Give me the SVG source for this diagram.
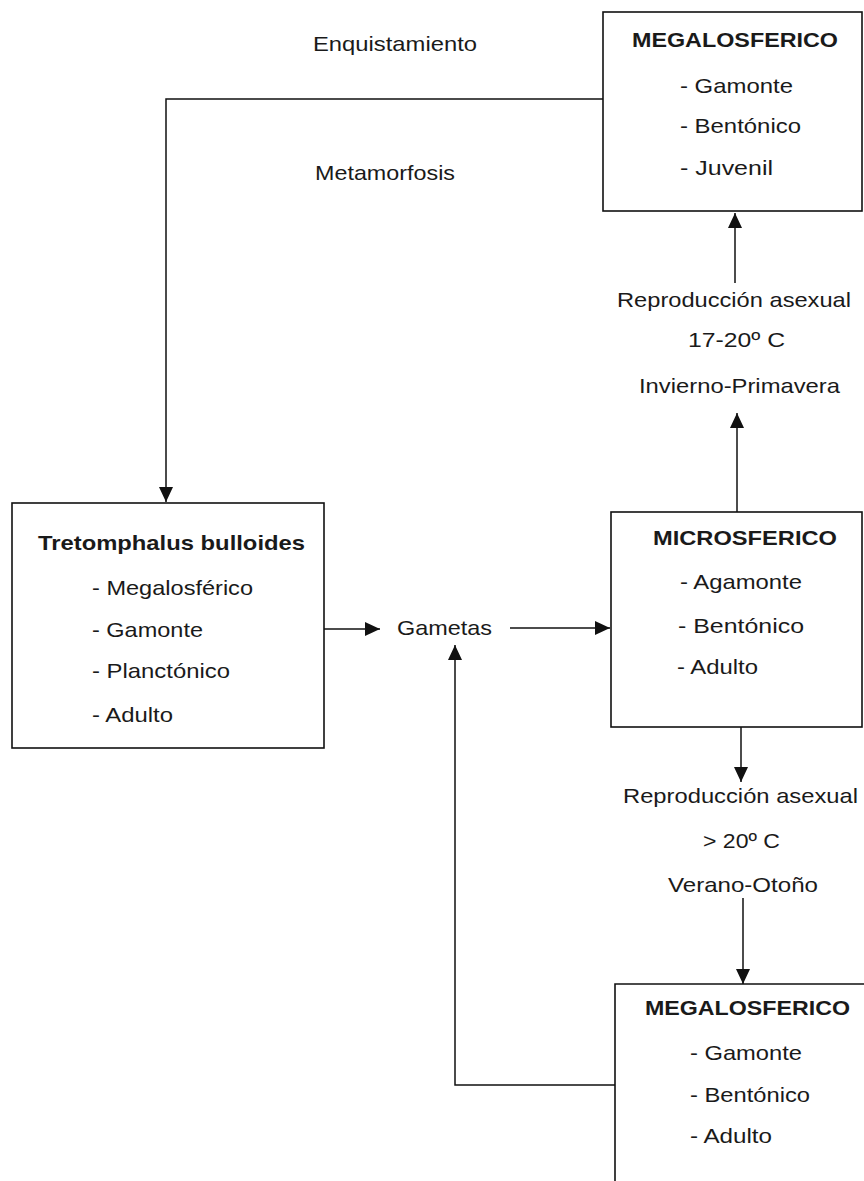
<svg xmlns="http://www.w3.org/2000/svg" width="864" height="1181" viewBox="0 0 864 1181">
<style>
.box{fill:none;stroke:#111;stroke-width:1.6}
.con{fill:none;stroke:#111;stroke-width:1.5}
text{font-family:"Liberation Sans",Arial,sans-serif;font-size:21px;fill:#1a1a1a}
.b{font-weight:bold}
</style>
<defs>
<marker id="arr" markerUnits="userSpaceOnUse" markerWidth="16" markerHeight="16" refX="15" refY="7" orient="auto">
<path d="M0,0 L15,7 L0,14 Z" fill="#111"/>
</marker>
</defs>
<rect width="864" height="1181" fill="#fff"/>
<g id="connectors">
<path class="con" d="M603,99 H166 V502" marker-end="url(#arr)"/>
<path class="con" d="M324,629 H380" marker-end="url(#arr)"/>
<path class="con" d="M510,628 H610" marker-end="url(#arr)"/>
<path class="con" d="M737,512 V413" marker-end="url(#arr)"/>
<path class="con" d="M735,283 V213" marker-end="url(#arr)"/>
<path class="con" d="M741,727 V782" marker-end="url(#arr)"/>
<path class="con" d="M743,898 V984" marker-end="url(#arr)"/>
<path class="con" d="M615,1085 H455 V645" marker-end="url(#arr)"/>
</g>
<g id="labels">
<text x="313" y="51" textLength="164" lengthAdjust="spacingAndGlyphs">Enquistamiento</text>
<text x="315" y="180" textLength="140" lengthAdjust="spacingAndGlyphs">Metamorfosis</text>
<text x="617" y="307" textLength="234" lengthAdjust="spacingAndGlyphs">Reproducción asexual</text>
<text x="688" y="347" textLength="97" lengthAdjust="spacingAndGlyphs">17-20º C</text>
<text x="639" y="393" textLength="201" lengthAdjust="spacingAndGlyphs">Invierno-Primavera</text>
<text x="397" y="635" textLength="95" lengthAdjust="spacingAndGlyphs">Gametas</text>
<text x="623" y="803" textLength="235" lengthAdjust="spacingAndGlyphs">Reproducción asexual</text>
<text x="703" y="848" textLength="77" lengthAdjust="spacingAndGlyphs">&gt; 20º C</text>
<text x="668" y="892" textLength="150" lengthAdjust="spacingAndGlyphs">Verano-Otoño</text>
</g>
<g id="megalosferico-juvenil">
<rect class="box" x="603" y="12" width="259" height="199"/>
<text class="b" x="632" y="47" textLength="206" lengthAdjust="spacingAndGlyphs">MEGALOSFERICO</text>
<text x="680" y="93" textLength="113" lengthAdjust="spacingAndGlyphs">- Gamonte</text>
<text x="680" y="133" textLength="121" lengthAdjust="spacingAndGlyphs">- Bentónico</text>
<text x="680" y="175" textLength="93" lengthAdjust="spacingAndGlyphs">- Juvenil</text>
</g>
<g id="tretomphalus">
<rect class="box" x="12" y="503" width="312" height="245"/>
<text class="b" x="38" y="550" textLength="267" lengthAdjust="spacingAndGlyphs">Tretomphalus bulloides</text>
<text x="92" y="595" textLength="161" lengthAdjust="spacingAndGlyphs">- Megalosférico</text>
<text x="92" y="637" textLength="111" lengthAdjust="spacingAndGlyphs">- Gamonte</text>
<text x="92" y="678" textLength="138" lengthAdjust="spacingAndGlyphs">- Planctónico</text>
<text x="92" y="722" textLength="81" lengthAdjust="spacingAndGlyphs">- Adulto</text>
</g>
<g id="microsferico">
<rect class="box" x="611" y="512" width="251" height="215"/>
<text class="b" x="653" y="545" textLength="184" lengthAdjust="spacingAndGlyphs">MICROSFERICO</text>
<text x="680" y="589" textLength="122" lengthAdjust="spacingAndGlyphs">- Agamonte</text>
<text x="678" y="633" textLength="126" lengthAdjust="spacingAndGlyphs">- Bentónico</text>
<text x="677" y="674" textLength="81" lengthAdjust="spacingAndGlyphs">- Adulto</text>
</g>
<g id="megalosferico-adulto">
<path class="box" d="M866,984 H615 V1183"/>
<text class="b" x="645" y="1015" textLength="205" lengthAdjust="spacingAndGlyphs">MEGALOSFERICO</text>
<text x="690" y="1060" textLength="112" lengthAdjust="spacingAndGlyphs">- Gamonte</text>
<text x="690" y="1102" textLength="120" lengthAdjust="spacingAndGlyphs">- Bentónico</text>
<text x="690" y="1143" textLength="82" lengthAdjust="spacingAndGlyphs">- Adulto</text>
</g>
</svg>
